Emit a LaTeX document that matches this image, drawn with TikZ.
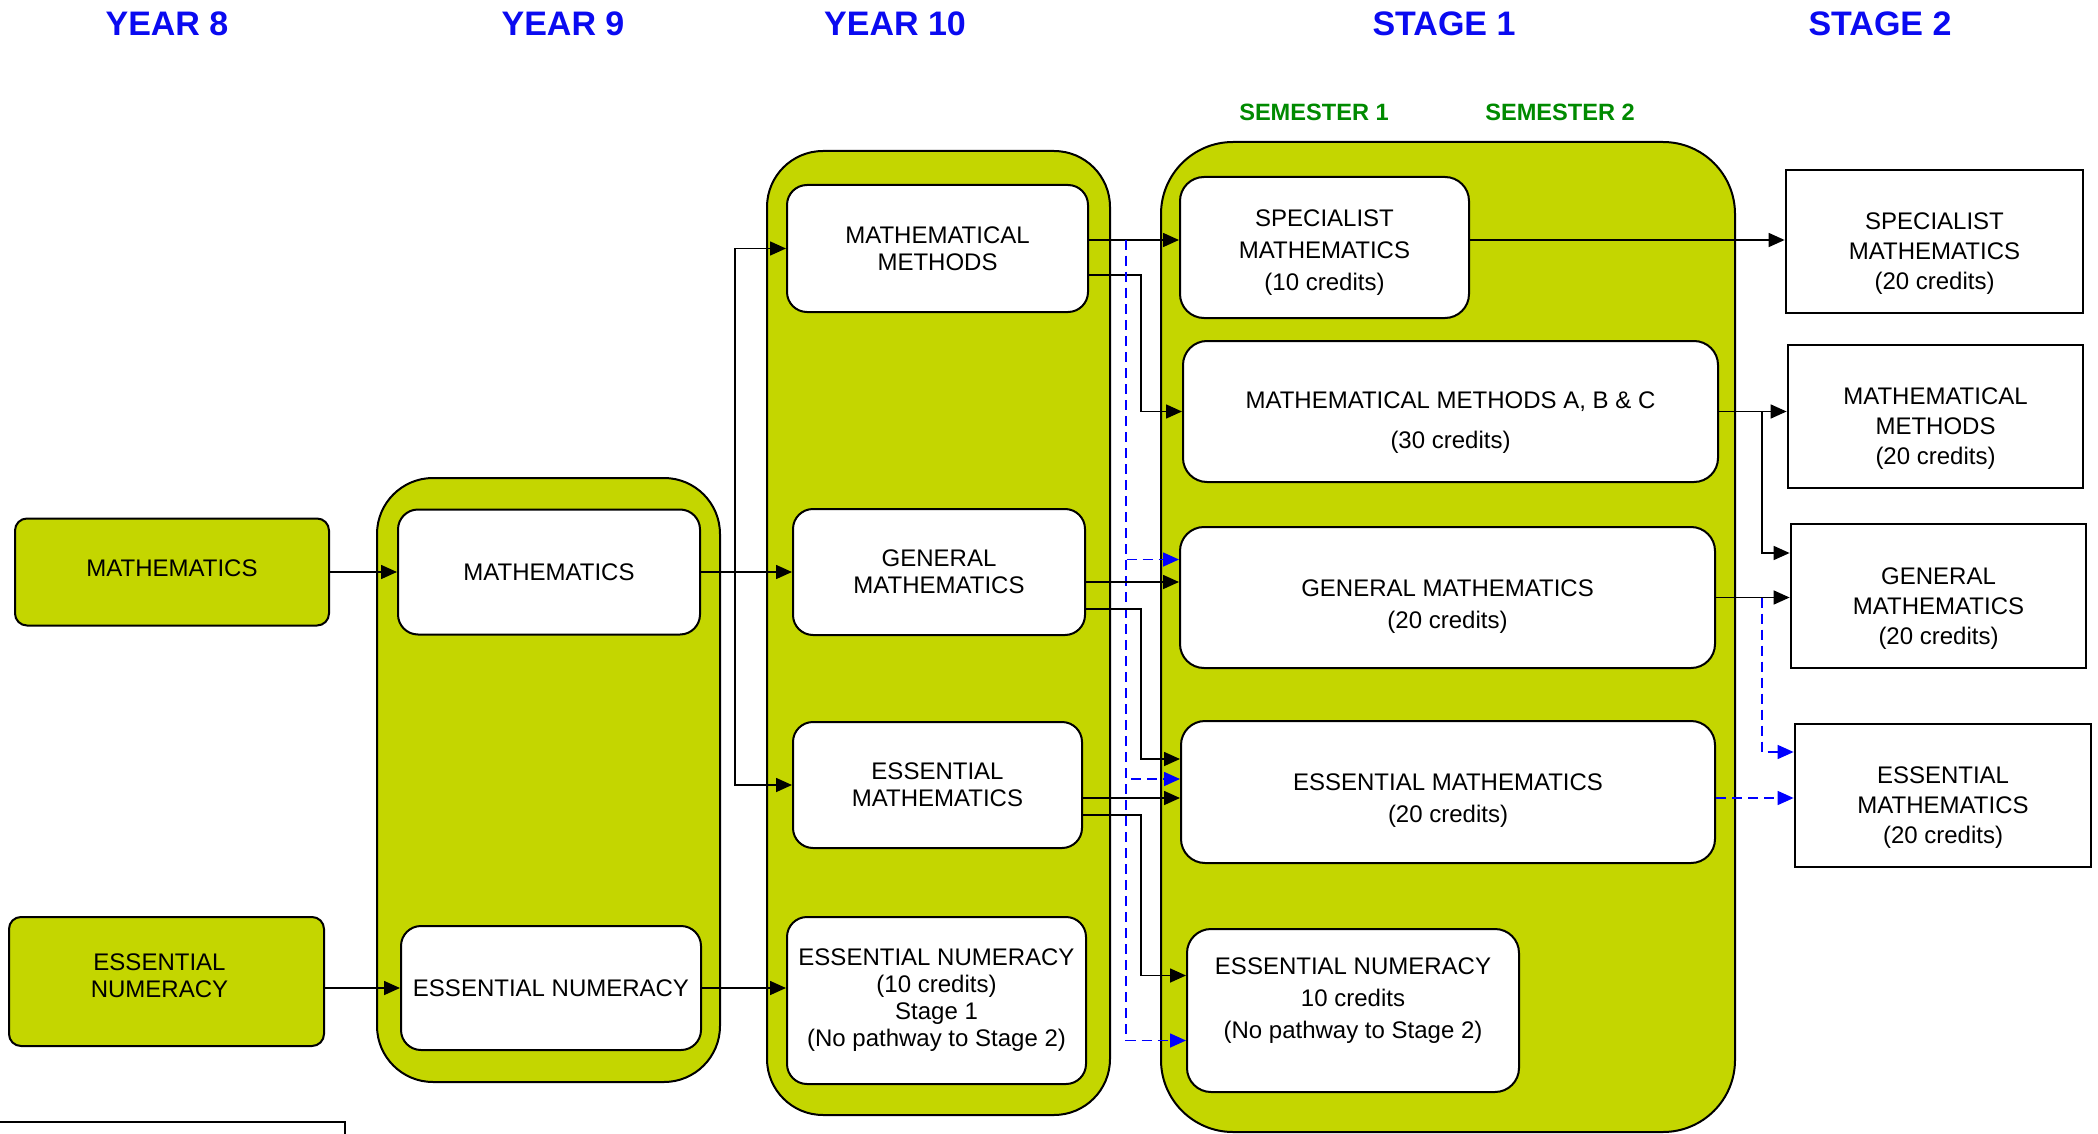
\documentclass[tikz,border=0pt]{standalone}
\usepackage{fontspec}
\setmainfont{Liberation Sans}
\usepackage{tikz}
\usetikzlibrary{
  arrows.meta,
  positioning
}
\definecolor{stagefill}{HTML}{C4D600}
\definecolor{semgreen}{HTML}{008A00}
\definecolor{hdrblue}{HTML}{0A0AF0}

\begin{document}
\begin{tikzpicture}[x=0.5pt, y=-0.5pt,
  grp/.style={draw, line width=1pt, fill=stagefill, rounded corners=28pt},
  box/.style={draw, line width=1pt, fill=white, rounded corners=10pt, align=center, inner sep=2pt,
    font=\fontsize{12}{13.5}\selectfont},
  ybox/.style={box, fill=stagefill, rounded corners=6pt},
  sbox/.style={box, rounded corners=12pt, font=\fontsize{12}{16}\selectfont, text depth=0pt},
  endbox/.style={box, rounded corners=0pt, line width=1.4pt, font=\fontsize{12}{15}\selectfont,
    text height=48pt, text depth=0pt},
  hdr/.style={font=\fontsize{17}{20}\selectfont\bfseries, text=hdrblue},
  sem/.style={font=\fontsize{11.8}{14}\selectfont\bfseries, text=semgreen},
  arr/.style={-{Triangle[length=8pt,width=7pt]}, line width=0.8pt},
  dasharr/.style={arr, blue, dash pattern=on 5pt off 3pt},
]
  \useasboundingbox (0,0) rectangle (2098,1134);

  % Headings
  \node[hdr] (hy8) at (167,24) {YEAR 8};
  \node[hdr] (hy9) at (563,24) {YEAR 9};
  \node[hdr] (hy10) at (895,24) {YEAR 10};
  \node[hdr] (hs1) at (1444,24) {STAGE 1};
  \node[hdr] (hs2) at (1880,24) {STAGE 2};
  \node[sem] (sem1) at (1314,112) {SEMESTER 1};
  \node[sem] (sem2) at (1560,112) {SEMESTER 2};

  % Year 8
  \node[ybox, text depth=4pt, minimum width=157pt, minimum height=53.5pt] (y8math) at (172,572) {MATHEMATICS};
  \node[ybox, text depth=6pt, minimum width=157.5pt, minimum height=64.5pt] (y8num) at (166.5,981.5)
    {ESSENTIAL\hspace*{7pt}\\NUMERACY\hspace*{7pt}};

  % Year 9
  \node[grp, minimum width=171.5pt, minimum height=302pt] (y9grp) at (548.5,780) {};
  \node[box, minimum width=151pt, minimum height=62.5pt] (y9math) at (549,572) {MATHEMATICS};
  \node[box, minimum width=150pt, minimum height=62pt] (y9num) at (551,988) {ESSENTIAL NUMERACY};

  % Year 10
  \node[grp, minimum width=171.5pt, minimum height=482pt] (y10grp) at (938.5,633) {};
  \node[box, minimum width=150.5pt, minimum height=63.5pt] (y10mm) at (937.5,248.5) {MATHEMATICAL\\METHODS};
  \node[box, minimum width=146pt, minimum height=63pt] (y10gm) at (939,572) {GENERAL\\MATHEMATICS};
  \node[box, minimum width=144.5pt, minimum height=63pt] (y10em) at (937.5,785) {ESSENTIAL\\MATHEMATICS};
  \node[box, minimum width=149.5pt, minimum height=83.5pt] (y10num) at (936.5,1000.5)
    {ESSENTIAL NUMERACY\\(10 credits)\\Stage 1\\(No pathway to Stage 2)};

  % Stage 1
  \node[grp, rounded corners=36pt, minimum width=287pt, minimum height=495pt] (s1grp) at (1448,637) {};
  \node[sbox, text height=43pt, minimum width=144.5pt, minimum height=70.5pt] (s1spec) at (1324.5,247.5)
    {SPECIALIST\\MATHEMATICS\\(10 credits)};
  \node[sbox, font=\fontsize{12}{20}\selectfont, text height=37pt, minimum width=267.5pt, minimum height=70.5pt]
    (s1mm) at (1450.5,411.5) {MATHEMATICAL METHODS A, B \& C\\(30 credits)};
  \node[sbox, text height=30.5pt, minimum width=267.5pt, minimum height=70.5pt] (s1gm) at (1447.5,597.5)
    {GENERAL MATHEMATICS\\(20 credits)};
  \node[sbox, text height=30pt, minimum width=267pt, minimum height=71pt] (s1em) at (1448,792)
    {ESSENTIAL MATHEMATICS\\(20 credits)};
  \node[sbox, text depth=12.5pt, minimum width=166pt, minimum height=81.5pt] (s1num) at (1353,1010.5)
    {ESSENTIAL NUMERACY\\10 credits\\(No pathway to Stage 2)};

  % Stage 2
  \node[endbox, minimum width=148.5pt, minimum height=71.5pt] (s2spec) at (1934.5,241.5)
    {SPECIALIST\\MATHEMATICS\\(20 credits)};
  \node[endbox, minimum width=147.5pt, minimum height=71.5pt] (s2mm) at (1935.5,416.5)
    {MATHEMATICAL\\METHODS\\(20 credits)};
  \node[endbox, minimum width=147.5pt, minimum height=72pt] (s2gm) at (1938.5,596)
    {GENERAL\\MATHEMATICS\\(20 credits)};
  \node[endbox, minimum width=148pt, minimum height=71.5pt] (s2em) at (1943,795.5)
    {ESSENTIAL\\MATHEMATICS\\(20 credits)};

  % cut-off box at the bottom
  \draw[line width=0.8pt] (-10,1122) rectangle (345,1300);

  % Year 8 -> Year 9 -> Year 10
  \draw[arr] (y8math) -- (y9math);
  \draw[arr] (y8num.east |- y9num.west) -- (y9num.west);
  \draw[arr] (y9math) -- (y10gm);
  \coordinate (fork) at (735,572);
  \draw[arr] (fork) |- (y10mm.west);
  \draw[arr] (fork) |- (y10em.west);
  \draw[arr] (y9num.east) -- (y9num.east -| y10num.west);

  % Year 10 -> Stage 1
  \coordinate (specrow) at (1100,240);
  \coordinate (gmrow) at (1100,582);
  \coordinate (emrow) at (1100,798);
  \coordinate (mmdrop) at (1141,275);
  \coordinate (gmdrop) at (1141,609);
  \coordinate (emdrop) at (1141,815);
  \coordinate (bluedrop) at (1126,240);
  \draw[arr] (y10mm.east |- specrow) -- (s1spec.west |- specrow);
  \draw[arr] (y10mm.east |- mmdrop) -- (mmdrop) |- (s1mm.west);
  \draw[dasharr] (bluedrop) |- ([yshift=19pt]s1gm.west);
  \draw[dasharr] (bluedrop) |- ([yshift=6.5pt]s1em.west);
  \draw[dasharr] (bluedrop) |- ([yshift=-15pt]s1num.west);
  \draw[arr] (y10gm.east |- gmrow) -- (s1gm.west |- gmrow);
  \draw[arr] (y10gm.east |- gmdrop) -- (gmdrop) |- ([yshift=16.5pt]s1em.west);
  \draw[arr] (y10em.east |- emrow) -- (s1em.west |- emrow);
  \draw[arr] (y10em.east |- emdrop) -- (emdrop) |- ([yshift=17.5pt]s1num.west);

  % Stage 1 -> Stage 2
  \coordinate (s2drop) at (1762,0);
  \draw[arr] (s1spec.east |- specrow) -- (s2spec.west |- specrow);
  \draw[arr] (s1mm.east) -- (s1mm.east -| s2mm.west);
  \draw[arr] (s1mm.east -| s2drop) |- ([yshift=21.5pt]s2gm.west);
  \draw[arr] (s1gm.east) -- (s1gm.east -| s2gm.west);
  \draw[dasharr] (s1gm.east -| s2drop) |- ([yshift=21.75pt]s2em.west);
  \draw[dasharr] (s1em.east |- emrow) -- (s2em.west |- emrow);
\end{tikzpicture}
\end{document}
